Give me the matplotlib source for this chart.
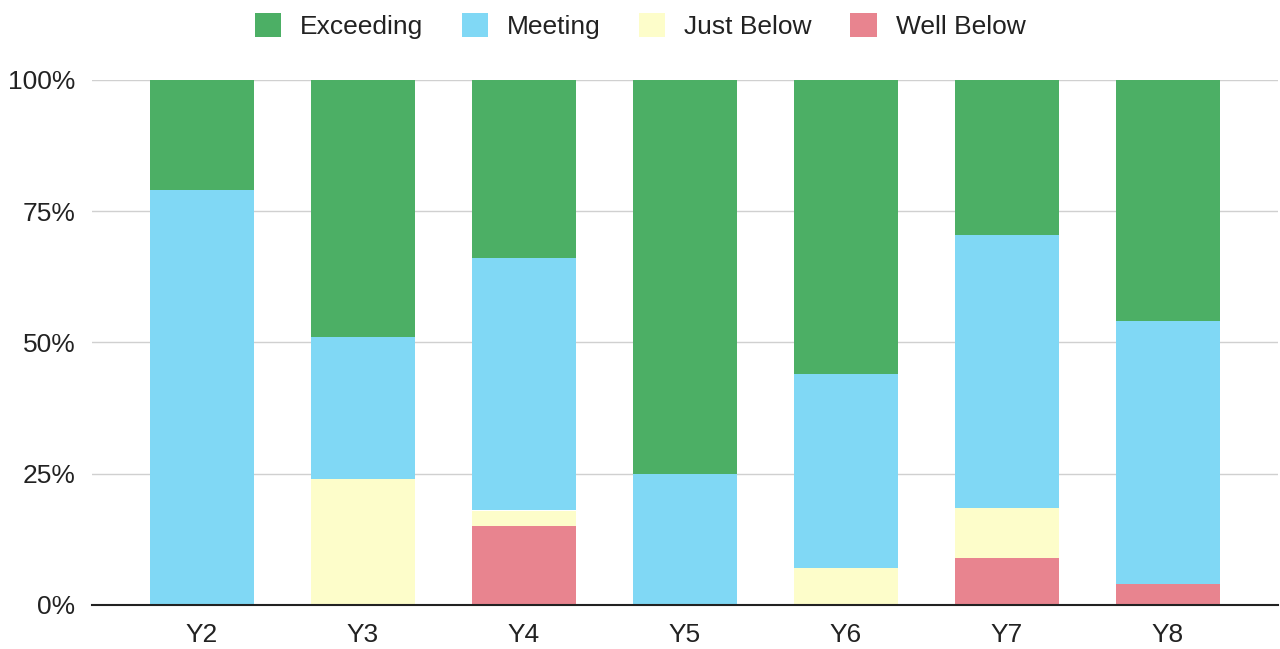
import matplotlib
matplotlib.use("Agg")
import matplotlib.pyplot as plt
import numpy as np

plt.rcParams['font.family'] = ['Liberation Sans', 'DejaVu Sans']

years = ["Y2", "Y3", "Y4", "Y5", "Y6", "Y7", "Y8"]
well_below = [0, 0, 15, 0, 0, 9, 4]
just_below = [0, 24, 3, 0, 7, 9.5, 0]
meeting = [79, 27, 48, 25, 37, 52, 50]
exceeding = [21, 49, 34, 75, 56, 29.5, 46]

series = [
    ("Well Below", well_below, "#e8848f"),
    ("Just Below", just_below, "#fdfdca"),
    ("Meeting", meeting, "#80d8f5"),
    ("Exceeding", exceeding, "#4caf65"),
]

fig = plt.figure(figsize=(12.8, 6.49), dpi=100)
ax = fig.add_axes([92 / 1280, 1 - 605 / 649, (1278 - 92) / 1280, (605 - 80) / 649])

x = np.arange(len(years))
bottom = np.zeros(len(years))
handles = {}
for name, vals, color in series:
    vals = np.array(vals, dtype=float)
    b = ax.bar(x, vals, bottom=bottom, width=0.65, color=color, label=name, zorder=2)
    handles[name] = b
    bottom += vals

ax.set_xlim(-0.683, 6.683)
ax.set_ylim(0, 100)
ax.set_yticks([0, 25, 50, 75, 100])
ax.set_yticklabels(["0%", "25%", "50%", "75%", "100%"])
ax.set_xticks(x)
ax.set_xticklabels(years)
ax.tick_params(axis='both', length=0, labelsize=19, colors="#222222")
ax.tick_params(axis='y', pad=12)
ax.tick_params(axis='x', pad=13)
ax.yaxis.grid(True, color="#d0d0d0", linewidth=1, zorder=0)
for s in ["top", "right", "left"]:
    ax.spines[s].set_visible(False)
ax.spines["bottom"].set_color("#222222")
ax.spines["bottom"].set_linewidth(1.5)
ax.spines["bottom"].set_zorder(3)

order = ["Exceeding", "Meeting", "Just Below", "Well Below"]
fig.legend([handles[n] for n in order], order, loc="center", bbox_to_anchor=(0.5, 1 - 26 / 649),
           ncol=4, frameon=False, fontsize=19, handlelength=1.0, handleheight=1.0,
           columnspacing=1.45, handletextpad=0.72, labelcolor="#222222")

fig.savefig("out.png", dpi=100, facecolor="white")
